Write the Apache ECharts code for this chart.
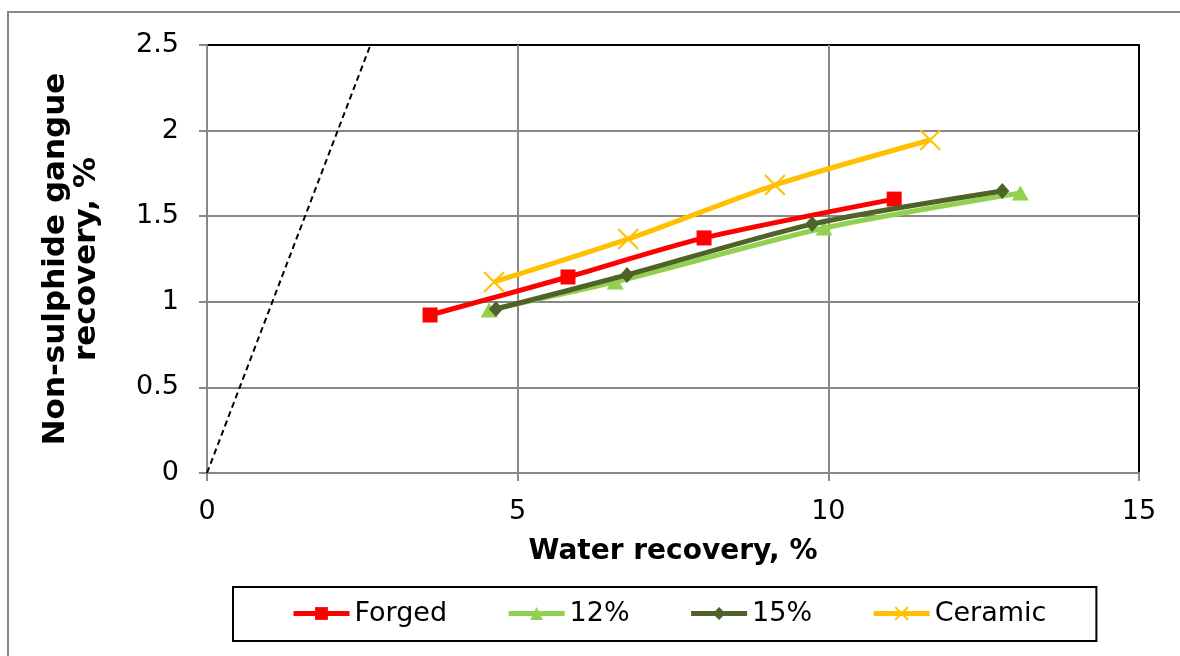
<!DOCTYPE html>
<html>
<head>
<meta charset="utf-8">
<script src="https://cdn.jsdelivr.net/npm/echarts@6/dist/echarts.min.js"></script>
<style>
html,body{margin:0;padding:0;background:#fff;}
#c{width:1180px;height:656px;}
</style>
</head>
<body>
<div id="c"></div>
<script>
const seriesNames = ['Forged', '12%', '15%', 'Ceramic'];
const forgedX = [3.59, 5.81, 8.00, 11.06];
const forgedY = [0.923, 1.145, 1.373, 1.600];
const p12X = [4.54, 6.57, 9.93, 13.09];
const p12Y = [0.952, 1.116, 1.431, 1.636];
const p15X = [4.65, 6.76, 9.74, 12.80];
const p15Y = [0.958, 1.157, 1.454, 1.647];
const ceramicX = [4.62, 6.78, 9.14, 11.64];
const ceramicY = [1.116, 1.367, 1.682, 1.945];
const refLineX = [0, 2.63];
const refLineY = [0, 2.5];
const xTicks = [0, 5, 10, 15];
const yTicks = [0, 0.5, 1, 1.5, 2, 2.5];

const zip = (xs, ys) => xs.map((x, i) => [x, ys[i]]);
const FONT = 'DejaVu Sans';
const colors = ['#FF0000', '#92D050', '#4F6228', '#FFC000'];
const symbols = ['rect', 'triangle', 'diamond', 'path://M0,0L10,10M10,0L0,10'];
const sizes = [[15, 15], [17, 15], [14, 16], [20, 20]];
const datas = [zip(forgedX, forgedY), zip(p12X, p12Y), zip(p15X, p15Y), zip(ceramicX, ceramicY)];

const chart = echarts.init(document.getElementById('c'), null, {renderer: 'canvas'});
const series = seriesNames.map((n, i) => ({
  name: n,
  type: 'line',
  data: datas[i],
  smooth: 0.25,
  symbol: symbols[i],
  symbolSize: sizes[i],
  lineStyle: {color: colors[i], width: 5},
  itemStyle: i === 3 ? {color: colors[i], borderColor: colors[i], borderWidth: 2} : {color: colors[i], borderWidth: 0},
  z: 3 + (i === 2 ? 1 : 0)
}));
series.push({
  name: 'ref',
  type: 'line',
  data: zip(refLineX, refLineY),
  symbol: 'none',
  lineStyle: {color: '#000', width: 2, type: [6, 4]},
  silent: true,
  z: 2
});

chart.setOption({
  animation: false,
  backgroundColor: '#fff',
  textStyle: {fontFamily: FONT},
  graphic: [{
    type: 'rect',
    shape: {x: 8, y: 12, width: 1300, height: 800},
    style: {fill: 'none', stroke: '#888', lineWidth: 2},
    silent: true, z: -10
  }],
  grid: {left: 207, right: 41, top: 45, bottom: 183, show: true, borderColor: '#000', borderWidth: 2, backgroundColor: 'transparent'},
  xAxis: {
    type: 'value', min: 0, max: 15, interval: 5,
    name: 'Water recovery, %', nameLocation: 'middle', nameGap: 65,
    nameTextStyle: {fontFamily: FONT, fontWeight: 'bold', fontSize: 28, color: '#000'},
    axisLine: {show: true, lineStyle: {color: '#888', width: 2}},
    axisTick: {show: true, length: 8, lineStyle: {color: '#888', width: 2}},
    axisLabel: {fontFamily: FONT, fontSize: 27, color: '#000', margin: 25},
    splitLine: {show: true, showMinLine: false, showMaxLine: false, lineStyle: {color: '#888', width: 2}}
  },
  yAxis: {
    type: 'value', min: 0, max: 2.5, interval: 0.5,
    name: 'Non-sulphide gangue\nrecovery, %', nameLocation: 'middle', nameGap: 105,
    nameTextStyle: {fontFamily: FONT, fontWeight: 'bold', fontSize: 31, color: '#000', lineHeight: 31},
    axisLine: {show: true, lineStyle: {color: '#888', width: 2}},
    axisTick: {show: true, length: 8, lineStyle: {color: '#888', width: 2}},
    axisLabel: {fontFamily: FONT, fontSize: 27, color: '#000', margin: 28},
    splitLine: {show: true, showMinLine: false, showMaxLine: false, lineStyle: {color: '#888', width: 2}}
  },
  legend: {
    data: seriesNames,
    left: 233, top: 587,
    width: 864,
    padding: [13, 50, 14, 58],
    borderColor: '#000', borderWidth: 2,
    itemWidth: 56, itemHeight: 16, itemGap: 59,
    lineStyle: {width: 5},
    textStyle: {fontFamily: FONT, fontSize: 27, color: '#000', padding: [0, 0, 0, 0]}
  },
  series: series
});
</script>
</body>
</html>
